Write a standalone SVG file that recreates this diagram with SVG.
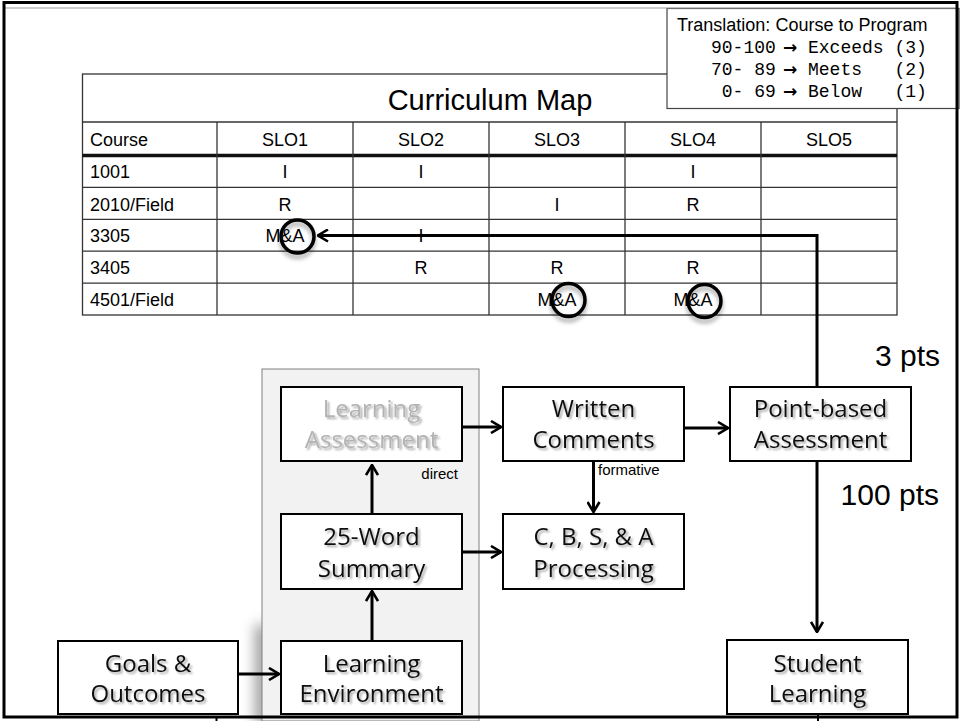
<svg xmlns="http://www.w3.org/2000/svg" width="960" height="721" viewBox="0 0 960 721">
<defs>
<style>
.tl{stroke:#333;stroke-width:1.3;fill:none}
.tk{stroke:#111;stroke-width:3.5;fill:none}
.tt{font-family:"Liberation Sans",Arial,sans-serif;font-size:18px;fill:#000}
.c{text-anchor:middle}
.box{fill:#fff;stroke:#000;stroke-width:2}
.bt{font-family:"Open Sans","Noto Sans",sans-serif;font-size:24px;fill:#111;text-anchor:middle;filter:url(#ts)}
.dim{fill:#b3b3b3}
.conn{fill:none;stroke:#000;stroke-width:3}
.lab{font-family:"Liberation Sans",Arial,sans-serif;font-size:15px;fill:#000}
.pts{font-family:"Liberation Sans",Arial,sans-serif;font-size:30px;fill:#000;text-anchor:end}
.mono{font-family:"Liberation Mono","Courier New",monospace;font-size:18px;fill:#000;white-space:pre}
.arr{font-family:"DejaVu Sans",sans-serif;font-weight:bold;font-size:17px;fill:#000;text-anchor:middle}
.ring{fill:none;stroke:#000;stroke-width:3.5;filter:url(#ds)}
</style>
<filter id="ts" x="-10%" y="-30%" width="130%" height="170%">
<feGaussianBlur in="SourceAlpha" stdDeviation="1"/>
<feOffset dx="1.5" dy="1.5" result="b"/>
<feFlood flood-color="#000" flood-opacity="0.35"/>
<feComposite in2="b" operator="in"/>
<feMerge><feMergeNode/><feMergeNode in="SourceGraphic"/></feMerge>
</filter>
<filter id="ds" x="-50%" y="-50%" width="200%" height="220%">
<feDropShadow dx="0" dy="4" stdDeviation="2.2" flood-color="#000" flood-opacity="0.35"/>
</filter>
<filter id="blur" x="-200%" y="-50%" width="500%" height="200%">
<feGaussianBlur stdDeviation="7"/>
</filter>
<marker id="ah" viewBox="0 0 12 14" refX="11" refY="7" markerWidth="12" markerHeight="14" markerUnits="userSpaceOnUse" orient="auto">
<path d="M1,1 L11,7 L1,13" fill="none" stroke="#000" stroke-width="2.6"/>
</marker>
</defs>

<rect width="960" height="721" fill="#fff"/>

<!-- Curriculum map table -->
<g id="curriculum-map">
<rect x="82.5" y="74" width="814.5" height="241" class="tl" stroke-width="1.5"/>
<line x1="82.5" y1="122" x2="897" y2="122" class="tl"/>
<line x1="82.5" y1="155.5" x2="897" y2="155.5" class="tk"/>
<line x1="82.5" y1="187.4" x2="897" y2="187.4" class="tl"/>
<line x1="82.5" y1="219.3" x2="897" y2="219.3" class="tl"/>
<line x1="82.5" y1="251.2" x2="897" y2="251.2" class="tl"/>
<line x1="82.5" y1="283.1" x2="897" y2="283.1" class="tl"/>
<line x1="217" y1="122" x2="217" y2="315" class="tl"/>
<line x1="353" y1="122" x2="353" y2="315" class="tl"/>
<line x1="489" y1="122" x2="489" y2="315" class="tl"/>
<line x1="625" y1="122" x2="625" y2="315" class="tl"/>
<line x1="761" y1="122" x2="761" y2="315" class="tl"/>
<text x="490" y="110" class="c" font-family="Liberation Sans, Arial, sans-serif" font-size="29">Curriculum Map</text>
<g class="tt">
<text x="90" y="146">Course</text>
<text x="285" y="146" class="c">SLO1</text>
<text x="421" y="146" class="c">SLO2</text>
<text x="557" y="146" class="c">SLO3</text>
<text x="693" y="146" class="c">SLO4</text>
<text x="829" y="146" class="c">SLO5</text>
<text x="90" y="178">1001</text>
<text x="285" y="178" class="c">I</text>
<text x="421" y="178" class="c">I</text>
<text x="693" y="178" class="c">I</text>
<text x="90" y="210.5">2010/Field</text>
<text x="285" y="210.5" class="c">R</text>
<text x="557" y="210.5" class="c">I</text>
<text x="693" y="210.5" class="c">R</text>
<text x="90" y="242.3">3305</text>
<text x="285" y="242.3" class="c">M&amp;A</text>
<text x="421" y="242.3" class="c">I</text>
<text x="90" y="274.2">3405</text>
<text x="421" y="274.2" class="c">R</text>
<text x="557" y="274.2" class="c">R</text>
<text x="693" y="274.2" class="c">R</text>
<text x="90" y="306">4501/Field</text>
<text x="557" y="306" class="c">M&amp;A</text>
<text x="693" y="306" class="c">M&amp;A</text>
</g>
<circle cx="297.5" cy="236.5" r="16.5" class="ring"/>
<circle cx="568.5" cy="300" r="16.5" class="ring"/>
<circle cx="704.5" cy="301" r="16.5" class="ring"/>
</g>

<!-- Translation box -->
<g id="translation">
<rect x="667" y="8.5" width="292" height="100" fill="#fff" stroke="#444" stroke-width="1.2"/>
<text x="677" y="31" font-family="Liberation Sans, Arial, sans-serif" font-size="18">Translation: Course to Program</text>
<text x="711" y="53" class="mono" xml:space="preserve">90-100</text>
<text x="790" y="52.5" class="arr">→</text>
<text x="808" y="53" class="mono" xml:space="preserve">Exceeds (3)</text>
<text x="711" y="75" class="mono" xml:space="preserve">70- 89</text>
<text x="790" y="74.5" class="arr">→</text>
<text x="808" y="75" class="mono" xml:space="preserve">Meets   (2)</text>
<text x="711" y="97" class="mono" xml:space="preserve"> 0- 69</text>
<text x="790" y="96.5" class="arr">→</text>
<text x="808" y="97" class="mono" xml:space="preserve">Below   (1)</text>
</g>

<!-- Grey panel -->
<g id="panel">
<rect x="256" y="625" width="12" height="100" fill="#8a8a8a" filter="url(#blur)"/>
<rect x="262" y="369" width="217" height="352" fill="#f2f2f2" stroke="#808080" stroke-width="1"/>
</g>

<!-- Connectors -->
<g id="connectors">
<path class="conn" d="M238,674 H279" marker-end="url(#ah)"/>
<path class="conn" d="M372,641 V591" marker-end="url(#ah)"/>
<path class="conn" d="M372,514 V465" marker-end="url(#ah)"/>
<path class="conn" d="M462,427 H501" marker-end="url(#ah)"/>
<path class="conn" d="M462,552 H501" marker-end="url(#ah)"/>
<path class="conn" d="M593.5,461 V512" marker-end="url(#ah)"/>
<path class="conn" d="M684,428 H728" marker-end="url(#ah)"/>
<path class="conn" d="M817,461 V632" marker-end="url(#ah)"/>
<path class="conn" d="M817,387 V235.5 H318" marker-end="url(#ah)"/>
<text x="458" y="479" class="lab" text-anchor="end">direct</text>
<text x="598" y="475" class="lab">formative</text>
<text x="940" y="366" class="pts">3 pts</text>
<text x="939" y="505" class="pts">100 pts</text>
</g>

<!-- Nodes -->
<g id="learning-assessment">
<rect x="281" y="387" width="181" height="74" class="box"/>
<text x="371.5" y="417" class="bt dim">Learning</text>
<text x="371.5" y="448" class="bt dim">Assessment</text>
</g>
<g id="written-comments">
<rect x="503" y="387" width="181" height="74" class="box"/>
<text x="593.5" y="417" class="bt">Written</text>
<text x="593.5" y="448" class="bt">Comments</text>
</g>
<g id="point-based">
<rect x="730" y="387" width="181" height="74" class="box"/>
<text x="820.5" y="417" class="bt">Point-based</text>
<text x="820.5" y="448" class="bt">Assessment</text>
</g>
<g id="summary">
<rect x="281" y="514" width="181" height="75" class="box"/>
<text x="371.5" y="545" class="bt">25-Word</text>
<text x="371.5" y="576.5" class="bt">Summary</text>
</g>
<g id="cbsa">
<rect x="503" y="514" width="181" height="75" class="box"/>
<text x="593.5" y="545" class="bt">C, B, S, &amp; A</text>
<text x="593.5" y="576.5" class="bt">Processing</text>
</g>
<g id="goals">
<rect x="58" y="641" width="180" height="73" class="box"/>
<text x="148" y="671.5" class="bt">Goals &amp;</text>
<text x="148" y="701.5" class="bt">Outcomes</text>
</g>
<g id="learning-environment">
<rect x="281" y="641" width="181" height="73" class="box"/>
<text x="371.5" y="671.5" class="bt">Learning</text>
<text x="371.5" y="701.5" class="bt">Environment</text>
</g>
<g id="student-learning">
<rect x="727" y="640" width="181" height="74" class="box"/>
<text x="817.5" y="671.5" class="bt">Student</text>
<text x="817.5" y="701.5" class="bt">Learning</text>
</g>

<!-- Frame -->
<g id="frame">
<line x1="4" y1="8" x2="957" y2="8" stroke="#999" stroke-width="1"/>
<rect x="4" y="2.5" width="953" height="714.5" fill="none" stroke="#000" stroke-width="3"/>
<line x1="216.5" y1="716" x2="216.5" y2="721" stroke="#000" stroke-width="2"/>
<line x1="818" y1="713" x2="818" y2="721" stroke="#000" stroke-width="2"/>
</g>
</svg>
